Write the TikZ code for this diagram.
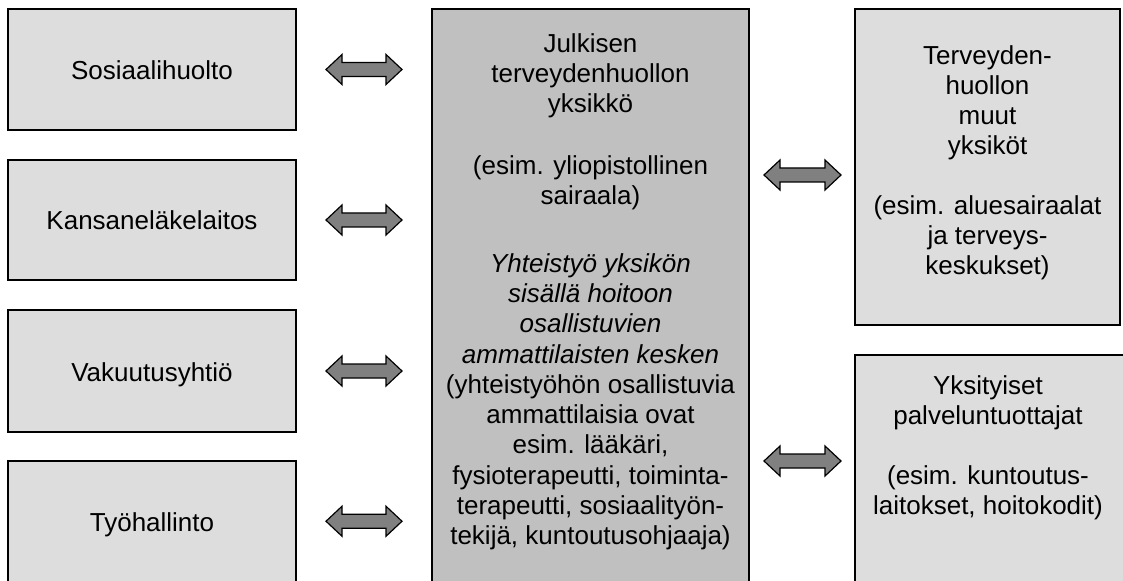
\documentclass[tikz,border=0pt]{standalone}
\usepackage{fontspec}
\setmainfont{Liberation Sans}
\usetikzlibrary{calc,fit}
\definecolor{lightbox}{HTML}{DDDDDD}
\definecolor{midbox}{HTML}{C0C0C0}
\definecolor{arrowgray}{HTML}{808080}
\newcommand\dblarr[2]{%
  \draw[dbl] (#1) -- ++(16,-15) -- ++(0,8) -- ($(#2)+(-16,-7)$) -- ++(0,-8) -- (#2)
    -- ++(-16,15) -- ++(0,-8) -- ($(#1)+(16,7)$) -- ++(0,8) -- cycle;}
\begin{document}
\begin{tikzpicture}[x=1bp,y=-1bp,
  box/.style={draw=black, line width=2bp, fill=lightbox, inner sep=0pt, outer sep=0pt},
  midstyle/.style={box, fill=midbox},
  txt/.style={inner sep=0pt, align=center, font=\fontsize{26bp}{30bp}\selectfont},
  midtxt/.style={txt, font=\fontsize{26bp}{30.3bp}\selectfont},
  dbl/.style={draw=black, line width=1.2bp, fill=arrowgray, line join=miter}]
\useasboundingbox (0,0) rectangle (1123,581);
\clip (0,0) rectangle (1123,581);
% boxes
\node[box, fit={(8,9) (296,130)}] (L1) {};
\node[box, fit={(8,160) (296,280)}] (L2) {};
\node[box, fit={(8,310) (296,432)}] (L3) {};
\node[box, fit={(8,461) (296,581.5)}] (L4) {};
\node[midstyle, fit={(432,9) (749,581.5)}] (M) {};
\node[box, fit={(855,9) (1120,325)}] (R1) {};
\node[box, fit={(855,355) (1130,581.5)}] (R2) {};
% texts
\node[txt] (L1t) at (152,70.5) {Sosiaalihuolto};
\node[txt] (L2t) at (152,220.5) {Kansaneläkelaitos};
\node[txt] (L3t) at (152,375) {Vakuutusyhtiö};
\node[txt] (L4t) at (152,524.5) {Työhallinto};
\node[midtxt] (Mt) at (590.5,291.75) {Julkisen\\ terveydenhuollon\\ yksikkö\\[31.5bp]
  (esim. yliopistollinen\\ sairaala)\\[37bp]
  \textit{Yhteistyö yksikön}\\ \textit{sisällä hoitoon}\\ \textit{osallistuvien}\\
  \textit{ammattilaisten kesken}\\ (yhteistyöhön osallistuvia\\ ammattilaisia ovat\\
  esim. lääkäri,\\ fysioterapeutti, toiminta-\\ terapeutti, sosiaalityön-\\
  tekijä, kuntoutusohjaaja)};
\node[txt] (R1t) at (987.5,163.25) {Terveyden-\\ huollon\\ muut\\ yksiköt\\[30bp]
  (esim. aluesairaalat\\ ja terveys-\\ keskukset)};
\node[txt] (R2t) at (988,448.25) {Yksityiset\\ palveluntuottajat\\[30bp]
  (esim. kuntoutus-\\ laitokset, hoitokodit)};
% arrow end points
\coordinate (a1s) at ($(L1.east)+(30,0)$);
\coordinate (a1e) at ($(M.west |- L1.east)+(-30,0)$);
\coordinate (a2s) at ($(L2.east)+(30,0)$);
\coordinate (a2e) at ($(M.west |- L2.east)+(-30,0)$);
\coordinate (a3s) at ($(L3.east)+(30,0)$);
\coordinate (a3e) at ($(M.west |- L3.east)+(-30,0)$);
\coordinate (a4s) at ($(L4.east)+(30,0)$);
\coordinate (a4e) at ($(M.west |- L4.east)+(-30,0)$);
\coordinate (a5s) at ($(M.east |- 0,175)+(15,0)$);
\coordinate (a5e) at ($(R1.west |- 0,175)+(-14,0)$);
\coordinate (a6s) at ($(M.east |- 0,461)+(15,0)$);
\coordinate (a6e) at ($(R2.west |- 0,461)+(-14,0)$);
\dblarr{a1s}{a1e}
\dblarr{a2s}{a2e}
\dblarr{a3s}{a3e}
\dblarr{a4s}{a4e}
\dblarr{a5s}{a5e}
\dblarr{a6s}{a6e}
\end{tikzpicture}
\end{document}
